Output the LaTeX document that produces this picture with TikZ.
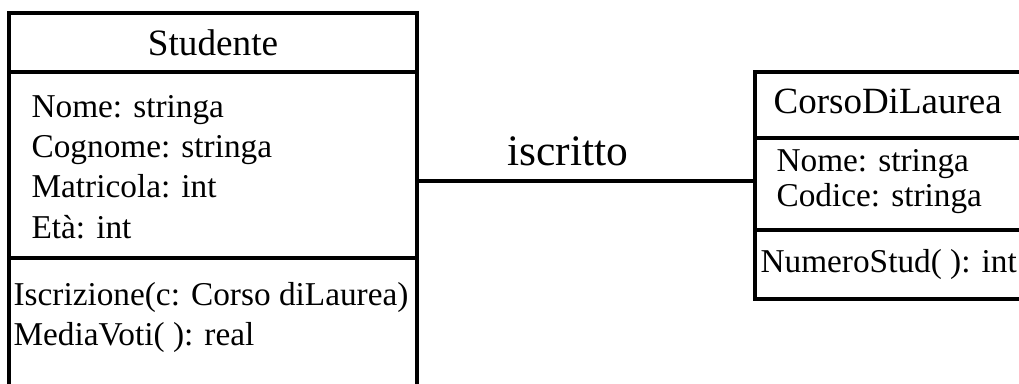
\documentclass[tikz,border=0pt]{standalone}
\usepackage{fontspec}
\setmainfont{Liberation Serif}
\begin{document}
\begin{tikzpicture}[x=1pt,y=-1pt,line width=3.2pt,
  classbox/.style={draw,inner sep=0pt,line width=3.2pt},
  ctitle/.style={inner sep=0pt,anchor=base,font=\fontsize{37.2}{45}\selectfont},
  ctitlew/.style={inner sep=0pt,anchor=base west,font=\fontsize{37}{45}\selectfont},
  member/.style={inner sep=0pt,anchor=base west,font=\fontsize{33.3}{40}\selectfont},
  assoc/.style={inner sep=0pt,anchor=base,font=\fontsize{43.5}{52}\selectfont}]
\useasboundingbox (0,0) rectangle (1019,383);
\clip (0,0) rectangle (1019,383);
% class boxes
\node[classbox,minimum width=408pt,minimum height=387pt] (stud) at (213,206.5) {};
\node[classbox,minimum width=275pt,minimum height=227pt] (corso) at (892.5,185.5) {};
% dividers
\coordinate (sd1) at (0,72);
\coordinate (sd2) at (0,258);
\coordinate (cd1) at (0,138);
\coordinate (cd2) at (0,230);
\draw (stud.west |- sd1) -- (stud.east |- sd1);
\draw (stud.west |- sd2) -- (stud.east |- sd2);
\draw (corso.west |- cd1) -- (corso.east |- cd1);
\draw (corso.west |- cd2) -- (corso.east |- cd2);
% Studente texts
\node[ctitle] (stitle) at (213,55) {Studente};
\node[member] (sa1) at (30,117) {Nome: stringa};
\node[member] (sa2) at (30,157) {Cognome: stringa};
\node[member] (sa3) at (30,197) {Matricola: int};
\node[member] (sa4) at (30,238) {Età: int};
\node[member] (sm1) at (12,305) {Iscrizione(c: Corso diLaurea)};
\node[member] (sm2) at (12,345) {MediaVoti( ): real};
% CorsoDiLaurea texts
\node[ctitlew] (ctitle) at (772,113) {CorsoDiLaurea};
\node[member] (ca1) at (775,171) {Nome: stringa};
\node[member] (ca2) at (775,206) {Codice: stringa};
\node[member] (cm1) at (759,272) {NumeroStud( ): int};
% association
\coordinate (lnk) at (600,181);
\draw (stud.east |- lnk) -- (corso.west |- lnk);
\node[assoc] (lbl) at (568,165) {iscritto};
\end{tikzpicture}
\end{document}
